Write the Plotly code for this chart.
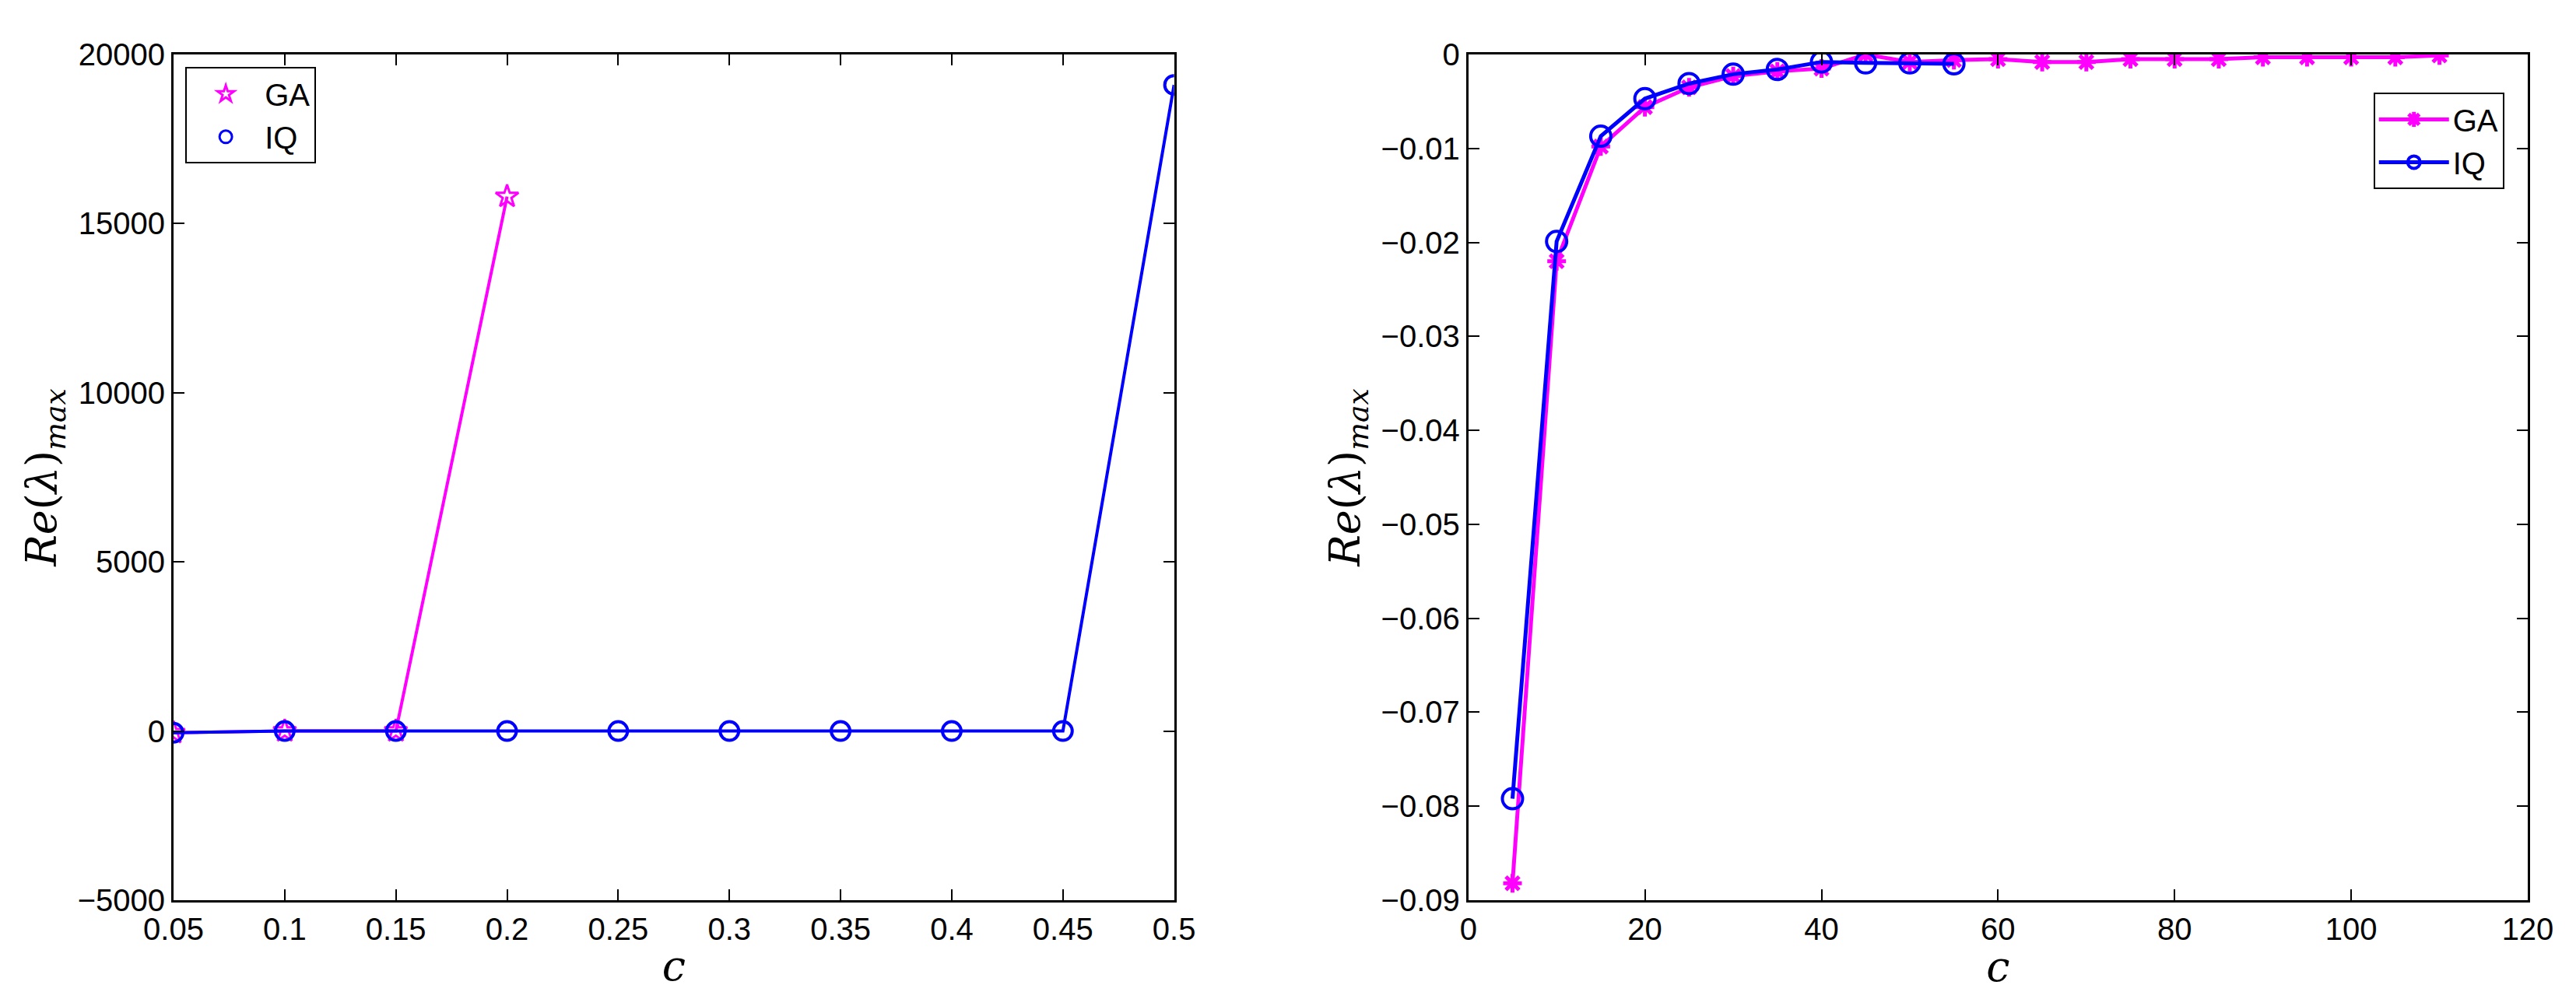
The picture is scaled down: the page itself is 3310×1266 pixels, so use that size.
import plotly.graph_objects as go
from plotly.subplots import make_subplots

# left panel
c_left_ga = [0.05, 0.1, 0.15, 0.2]
re_left_ga = [-50, 0, 0, 15800]
c_left_iq = [0.05, 0.1, 0.15, 0.2, 0.25, 0.3, 0.35, 0.4, 0.45, 0.5]
re_left_iq = [-50, 0, 0, 0, 0, 0, 0, 0, 0, 19100]
left_ticks = [0.05, 0.1, 0.15, 0.2, 0.25, 0.3, 0.35, 0.4, 0.45, 0.5]

# right panel
c_right_ga = [5, 10, 15, 20, 25, 30, 35, 40, 45, 50, 55, 60, 65, 70, 75, 80, 85, 90, 95, 100, 105, 110]
re_right_ga = [-0.0882, -0.022, -0.0098, -0.0056, -0.0035, -0.0023, -0.0018, -0.0015, 0.0, -0.0008,
               -0.0006, -0.0005, -0.0008, -0.0008, -0.0005, -0.0005, -0.0005, -0.0003, -0.0003,
               -0.0003, -0.0003, -0.0001]
c_right_iq = [5, 10, 15, 20, 25, 30, 35, 40, 45, 50, 55]
re_right_iq = [-0.0792, -0.0199, -0.0087, -0.0047, -0.0031, -0.0021, -0.0016, -0.0008, -0.0009, -0.0009, -0.0010]
right_yticks = [-0.09, -0.08, -0.07, -0.06, -0.05, -0.04, -0.03, -0.02, -0.01, 0]

MAG = "#ff00ff"
BLU = "#0000ff"

fig = make_subplots(rows=1, cols=2, horizontal_spacing=0.11)

fig.add_trace(go.Scatter(x=c_left_ga, y=re_left_ga, mode="lines+markers", name="GA",
                         line=dict(color=MAG, width=4),
                         marker=dict(symbol="star-open", size=22, color=MAG, line=dict(width=3)),
                         showlegend=False), 1, 1)
fig.add_trace(go.Scatter(x=c_left_iq, y=re_left_iq, mode="lines+markers", name="IQ",
                         line=dict(color=BLU, width=4),
                         marker=dict(symbol="circle-open", size=24, color=BLU, line=dict(width=4)),
                         showlegend=False), 1, 1)
# legend entries for left panel (markers only)
for nm, sym, col in [("GA", "star-open", MAG), ("IQ", "circle-open", BLU)]:
    fig.add_trace(go.Scatter(x=[None], y=[None], mode="markers", name=nm, legend="legend",
                             marker=dict(symbol=sym, size=22, color=col, line=dict(width=3))), 1, 1)

fig.add_trace(go.Scatter(x=c_right_ga, y=re_right_ga, mode="lines+markers", name="GA", legend="legend2",
                         line=dict(color=MAG, width=5),
                         marker=dict(symbol="asterisk-open", size=20, color=MAG, line=dict(width=5, color=MAG))),
              1, 2)
fig.add_trace(go.Scatter(x=c_right_iq, y=re_right_iq, mode="lines+markers", name="IQ", legend="legend2",
                         line=dict(color=BLU, width=5),
                         marker=dict(symbol="circle-open", size=26, color=BLU, line=dict(width=4))),
              1, 2)

ax = dict(showline=True, linecolor="black", linewidth=3, mirror="ticks", ticks="inside",
          ticklen=14, tickwidth=2, tickcolor="black", showgrid=False, zeroline=False,
          tickfont=dict(size=40, color="black"))
ytitle = "<i>Re</i>(<i>λ</i>)<sub><i>max</i></sub>"
tfont = dict(size=54, family="DejaVu Serif", color="black")
xtitle = dict(text="<i>c</i>", font=tfont, standoff=8)
fig.update_xaxes(**ax)
fig.update_yaxes(**ax)
fig.update_xaxes(range=[0.05, 0.5], tickvals=left_ticks, ticktext=[f"{t:g}" for t in left_ticks],
                 title=xtitle, row=1, col=1)
fig.update_yaxes(range=[-5000, 20000], dtick=5000, tickformat="d",
                 title=dict(text=ytitle, font=tfont, standoff=10), row=1, col=1)
fig.update_xaxes(range=[0, 120], dtick=20, title=xtitle, row=1, col=2)
fig.update_yaxes(range=[-0.09, 0], tickvals=right_yticks,
                 ticktext=[f"{t:g}".replace("-", "\u2212") for t in right_yticks],
                 title=dict(text=ytitle, font=tfont, standoff=10), row=1, col=2)

leg = dict(bgcolor="white", bordercolor="black", borderwidth=2, font=dict(size=40, color="black"),
           itemwidth=90)
fig.update_layout(
    width=3310, height=1266, plot_bgcolor="white", paper_bgcolor="white",
    font=dict(family="Liberation Sans, Arial", color="black"),
    margin=dict(l=215, r=70, t=62, b=70),
    legend=dict(x=0.005, y=0.985, xanchor="left", yanchor="top", **leg),
    legend2=dict(x=0.99, y=0.955, xanchor="right", yanchor="top", **leg),
)
fig.update_xaxes(domain=[0.0, 0.425], row=1, col=1)
fig.update_xaxes(domain=[0.55, 1.0], row=1, col=2)
fig.write_html("out.html")
